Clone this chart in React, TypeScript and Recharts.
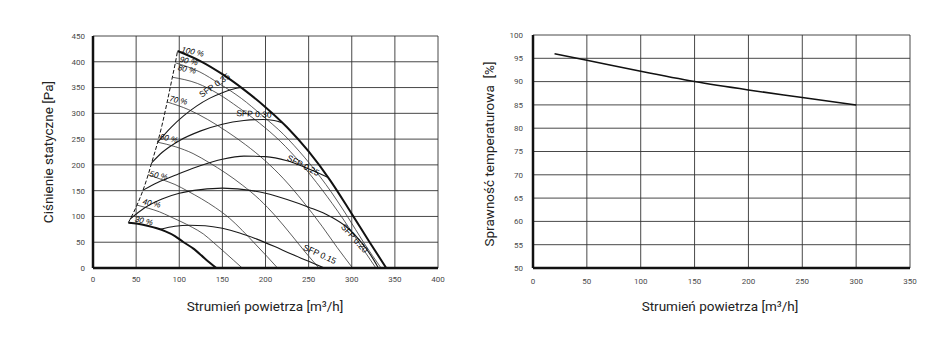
import { CartesianGrid, Line, LineChart, ReferenceDot, XAxis, YAxis } from "recharts"

// osie
const flowTicks = [0, 50, 100, 150, 200, 250, 300, 350, 400]
const pressureTicks = [0, 50, 100, 150, 200, 250, 300, 350, 400, 450]
const effFlowTicks = [0, 50, 100, 150, 200, 250, 300, 350]
const effTicks = [50, 55, 60, 65, 70, 75, 80, 85, 90, 95, 100]

// charakterystyki wentylatora (sterowanie %)
const q100 = [98, 125, 150, 175, 200, 225, 250, 275, 300, 320, 340]
const p100 = [421, 401, 376, 346, 312, 273, 226, 170, 105, 52, 0]
const q90 = [95.5, 123, 147, 172, 196, 221, 245, 270, 295, 314, 334]
const p90 = [398, 381, 357, 329, 296, 259, 215, 162, 100, 49, 0]
const q80 = [92, 121, 145, 169, 193, 217, 241, 265, 290, 309, 328]
const p80 = [370, 358, 338, 311, 281, 246, 203, 153, 95, 47, 0]
const q70 = [86, 111, 133, 155, 177, 199, 221, 243, 266, 283, 301]
const p70 = [322, 307, 288, 265, 239, 209, 173, 130, 80, 40, 0]
const q60 = [75, 96, 116, 135, 154, 173, 193, 212, 231, 246, 262]
const p60 = [244, 235, 222, 204, 184, 161, 133, 100, 62, 31, 0]
const q50 = [64, 79, 95, 110, 126, 142, 158, 173, 189, 202, 214]
const p50 = [181, 172, 162, 149, 134, 117, 97, 73, 45, 22, 0]
const q40 = [51, 64, 77, 89, 102, 115, 128, 140, 153, 163, 173]
const p40 = [122, 116, 109, 100, 90, 79, 66, 49, 30, 15, 0]
const q30 = [41, 52, 63, 74, 84, 95, 105, 116, 126, 134, 143]
const p30 = [88, 86, 82, 77, 71, 62, 50, 38, 24, 12, 0]

// granica pracy (linia przerywana)
const qLimit = [41, 51, 58, 64, 68, 75, 80, 86, 92, 95.5, 98]
const pLimit = [88, 122, 151, 181, 204, 244, 277, 322, 370, 398, 421]

// krzywe SFP
const qSfp15 = [78, 95, 112, 130, 150, 170, 190, 210, 230, 250, 268]
const pSfp15 = [75, 81, 83, 82, 77, 68, 56, 42, 27, 13, 0]
const qSfp20 = [43, 60, 80, 100, 125, 150, 175, 200, 225, 250, 275, 295, 310, 322, 331]
const pSfp20 = [95, 117, 134, 145, 152, 155, 152, 145, 133, 118, 100, 78, 52, 25, 0]
const qSfp25 = [58, 75, 97, 125, 150, 175, 200, 225, 245, 260, 272]
const pSfp25 = [151, 166, 181, 199, 211, 217, 216, 208, 196, 185, 176]
const qSfp30 = [68, 80, 100, 125, 150, 175, 197, 210, 219]
const pSfp30 = [204, 224, 247, 266, 279, 286, 288, 286, 282]
const qSfp35 = [75, 90, 105, 120, 135, 150, 165, 172]
const pSfp35 = [244, 272, 295, 314, 329, 340, 348, 350]

const speedLabels = [
  { text: "100 %", q: 102, p: 419 },
  { text: "90 %", q: 100, p: 400 },
  { text: "80 %", q: 98, p: 384 },
  { text: "70 %", q: 88, p: 324 },
  { text: "60 %", q: 77, p: 250 },
  { text: "50 %", q: 65, p: 178 },
  { text: "40 %", q: 57, p: 124 },
  { text: "30 %", q: 48, p: 90 },
]
const sfpLabels = [
  { text: "SFP 0.35", q: 126, p: 330 },
  { text: "SFP 0.30", q: 166, p: 295 },
  { text: "SFP 0.25", q: 224, p: 210 },
  { text: "SFP 0.20", q: 287, p: 79 },
  { text: "SFP 0.15", q: 243, p: 36 },
]
const sfpAngles = [-35, 3, 28, 48, 25]

// sprawność temperaturowa
const effFlow = [20, 50, 100, 150, 200, 250, 300]
const effValue = [96, 94.6, 92.2, 90, 88.2, 86.6, 85]

const pts = (q: number[], p: number[]) => q.map((x, i) => ({ q: x, p: p[i] }))

const fanCurves = [
  { id: "f90", data: pts(q90, p90) },
  { id: "f80", data: pts(q80, p80) },
  { id: "f70", data: pts(q70, p70) },
  { id: "f60", data: pts(q60, p60) },
  { id: "f50", data: pts(q50, p50) },
  { id: "f40", data: pts(q40, p40) },
]
const sfpCurves = [
  { id: "s15", data: pts(qSfp15, pSfp15) },
  { id: "s20", data: pts(qSfp20, pSfp20) },
  { id: "s25", data: pts(qSfp25, pSfp25) },
  { id: "s30", data: pts(qSfp30, pSfp30) },
  { id: "s35", data: pts(qSfp35, pSfp35) },
]

const font = "Roboto, 'Noto Sans', sans-serif"
const labelFont = "'Liberation Sans', Arial, sans-serif"
const tickStyle = { fontSize: 8, fill: "#4a4a4a", fontFamily: font }
const axisLine = { stroke: "#111", strokeWidth: 2.5 }

const rotatedText = (text: string, angle: number, size: number, italic: boolean) => (props: any) => (
  <text
    x={props.cx}
    y={props.cy}
    transform={`rotate(${angle} ${props.cx} ${props.cy})`}
    fontSize={size}
    fontStyle={italic ? "italic" : "normal"}
    fontFamily={labelFont}
    fill="#000"
    stroke="none"
  >
    {text}
  </text>
)

function Title({ x, y, text, vertical }: { x: number; y: number; text: string; vertical?: boolean }) {
  return (
    <div
      style={{
        position: "absolute",
        left: x,
        top: y,
        transform: `translate(-50%, -50%)${vertical ? " rotate(-90deg)" : ""}`,
        whiteSpace: "pre",
        fontFamily: font,
        fontSize: 13.5,
        color: "#222",
      }}
    >
      {text}
    </div>
  )
}

export default function App() {
  return (
    <div style={{ position: "absolute", left: 0, top: 0, width: 942, height: 348, background: "#fff" }}>
      <div style={{ position: "absolute", left: 0, top: 0 }}>
        <LineChart width={460} height={348} margin={{ top: 36, right: 22, bottom: 50, left: 53 }}>
          <CartesianGrid stroke="#333" strokeWidth={0.9} />
          <XAxis
            type="number"
            dataKey="q"
            domain={[0, 400]}
            ticks={flowTicks}
            interval={0}
            tickLine={false}
            axisLine={axisLine}
            tick={tickStyle}
            height={30}
            allowDataOverflow
          />
          <YAxis
            type="number"
            dataKey="p"
            domain={[0, 450]}
            ticks={pressureTicks}
            interval={0}
            tickLine={false}
            axisLine={axisLine}
            tick={tickStyle}
            width={40}
            allowDataOverflow
          />
          {fanCurves.map((c) => (
            <Line key={c.id} data={c.data} dataKey="p" type="monotone" dot={false} stroke="#333" strokeWidth={0.8} isAnimationActive={false} />
          ))}
          {sfpCurves.map((c) => (
            <Line key={c.id} data={c.data} dataKey="p" type="monotone" dot={false} stroke="#1a1a1a" strokeWidth={1.1} isAnimationActive={false} />
          ))}
          <Line data={pts(qLimit, pLimit)} dataKey="p" type="monotone" dot={false} stroke="#111" strokeWidth={1} strokeDasharray="4 2" isAnimationActive={false} />
          <Line data={pts(q100, p100)} dataKey="p" type="monotone" dot={false} stroke="#111" strokeWidth={2} isAnimationActive={false} />
          <Line data={pts(q30, p30)} dataKey="p" type="monotone" dot={false} stroke="#111" strokeWidth={2} isAnimationActive={false} />
          {speedLabels.map((l) => (
            <ReferenceDot key={l.text} x={l.q} y={l.p} r={0} shape={rotatedText(l.text, 12, 8, true)} />
          ))}
          {sfpLabels.map((l, i) => (
            <ReferenceDot key={l.text} x={l.q} y={l.p} r={0} shape={rotatedText(l.text, sfpAngles[i], 8.5, false)} />
          ))}
        </LineChart>
      </div>
      <div style={{ position: "absolute", left: 460, top: 0 }}>
        <LineChart width={482} height={348} margin={{ top: 35, right: 32, bottom: 50, left: 43 }}>
          <CartesianGrid stroke="#333" strokeWidth={0.9} />
          <XAxis
            type="number"
            dataKey="q"
            domain={[0, 350]}
            ticks={effFlowTicks}
            interval={0}
            tickLine={false}
            axisLine={axisLine}
            tick={tickStyle}
            tickMargin={4}
            height={30}
          />
          <YAxis
            type="number"
            dataKey="e"
            domain={[50, 100]}
            ticks={effTicks}
            interval={0}
            tickLine={false}
            axisLine={axisLine}
            tick={tickStyle}
            tickMargin={4}
            width={30}
          />
          <Line
            data={effFlow.map((q, i) => ({ q, e: effValue[i] }))}
            dataKey="e"
            type="monotone"
            dot={false}
            stroke="#111"
            strokeWidth={1.5}
            isAnimationActive={false}
          />
        </LineChart>
      </div>
      <Title x={48} y={152} text="Ciśnienie statyczne [Pa]" vertical />
      <Title x={265} y={306} text="Strumień powietrza [m³/h]" />
      <Title x={489} y={154} text="Sprawność temperaturowa  [%]" vertical />
      <Title x={720} y={306} text="Strumień powietrza [m³/h]" />
    </div>
  )
}
